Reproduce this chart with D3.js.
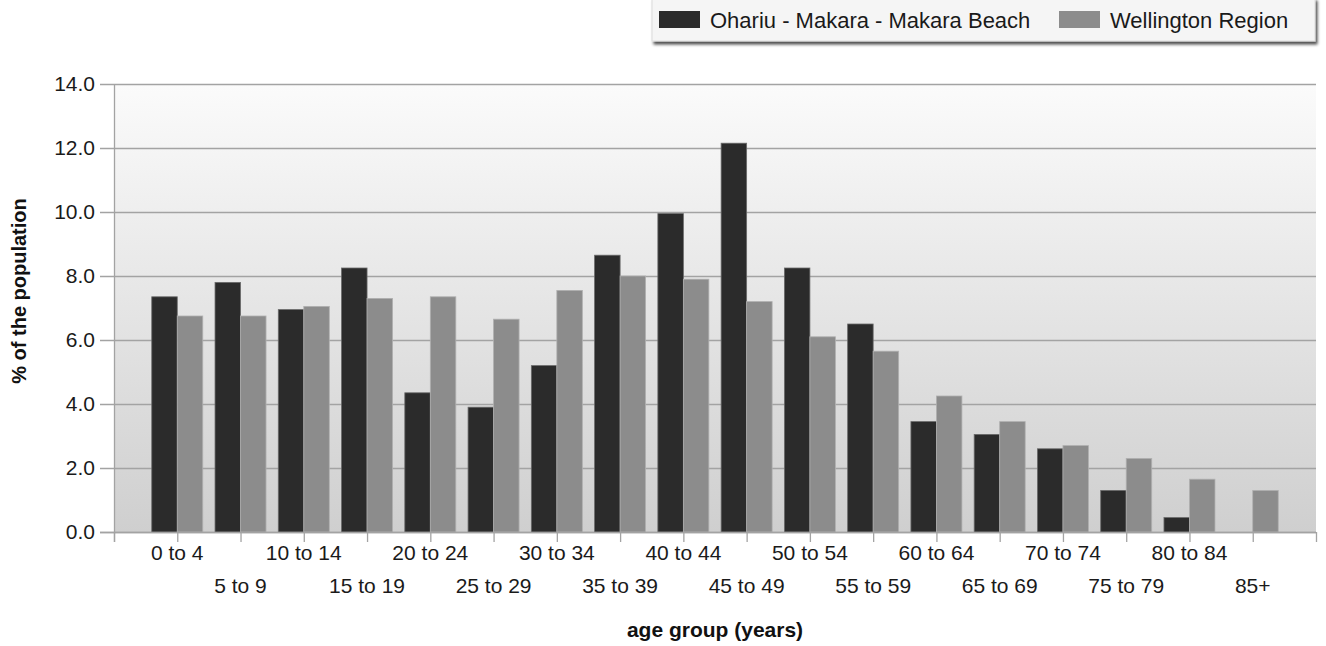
<!DOCTYPE html>
<html>
<head>
<meta charset="utf-8">
<script src="https://cdn.jsdelivr.net/npm/d3@7/dist/d3.min.js"></script>
<style>
  html, body { margin: 0; padding: 0; background: #ffffff; }
  svg { display: block; font-family: Arial, "Liberation Sans", sans-serif; }
</style>
</head>
<body>
<svg id="chart" width="1326" height="646"></svg>
<script>
const categories = ["0 to 4","5 to 9","10 to 14","15 to 19","20 to 24","25 to 29","30 to 34","35 to 39","40 to 44","45 to 49","50 to 54","55 to 59","60 to 64","65 to 69","70 to 74","75 to 79","80 to 84","85+"];
const seriesNames = ["Ohariu - Makara - Makara Beach", "Wellington Region"];
const ohariu =     [7.35, 7.8, 6.95, 8.25, 4.35, 3.9, 5.2, 8.65, 9.95, 12.15, 8.25, 6.5, 3.45, 3.05, 2.6, 1.3, 0.45, 0];
const wellington = [6.75, 6.75, 7.05, 7.3, 7.35, 6.65, 7.55, 8.0, 7.9, 7.2, 6.1, 5.65, 4.25, 3.45, 2.7, 2.3, 1.65, 1.3];
const yTicks = [0, 2, 4, 6, 8, 10, 12, 14];
const colors = ["#2b2b2b", "#8c8c8c"];

const svg = d3.select("#chart");
const plotLeft = 114, plotRight = 1316, plotTop = 84, plotBottom = 532;

const defs = svg.append("defs");
const grad = defs.append("linearGradient").attr("id", "bg").attr("x1", 0).attr("y1", 0).attr("x2", 0).attr("y2", 1);
grad.append("stop").attr("offset", "0%").attr("stop-color", "#fbfbfb");
grad.append("stop").attr("offset", "100%").attr("stop-color", "#cfcfcf");
const shadow = defs.append("filter").attr("id", "shadow").attr("x", "-5%").attr("y", "-20%").attr("width", "110%").attr("height", "160%");
shadow.append("feGaussianBlur").attr("in", "SourceAlpha").attr("stdDeviation", 1.5);
shadow.append("feOffset").attr("dx", 2).attr("dy", 3).attr("result", "ob");
shadow.append("feComponentTransfer").append("feFuncA").attr("type", "linear").attr("slope", 0.7);
const merge = shadow.append("feMerge");
merge.append("feMergeNode");
merge.append("feMergeNode").attr("in", "SourceGraphic");

const y = d3.scaleLinear().domain([0, 14]).range([plotBottom, plotTop]);
const x = d3.scalePoint().domain(categories).range([plotLeft, plotRight]).padding(1);
const barW = 25.5;

svg.append("rect").attr("x", plotLeft).attr("y", plotTop).attr("width", plotRight - plotLeft).attr("height", plotBottom - plotTop).attr("fill", "url(#bg)");

svg.append("g").selectAll("line").data(yTicks).join("line")
  .attr("x1", plotLeft - 14).attr("x2", plotRight)
  .attr("y1", d => y(d) + 0.5).attr("y2", d => y(d) + 0.5)
  .attr("stroke", "#a3a3a3").attr("stroke-width", 1.3);

svg.append("g").selectAll("text").data(yTicks).join("text")
  .attr("x", 95).attr("y", d => y(d)).attr("dy", "0.35em")
  .attr("text-anchor", "end").attr("font-size", 21).attr("fill", "#1a1a1a")
  .text(d => d.toFixed(1));

svg.append("line").attr("x1", plotLeft + 0.5).attr("x2", plotLeft + 0.5).attr("y1", plotTop).attr("y2", plotBottom + 10)
  .attr("stroke", "#a3a3a3").attr("stroke-width", 1.3);

const gBars = svg.append("g");
[ohariu, wellington].forEach((vals, s) => {
  gBars.append("g").selectAll("rect").data(categories).join("rect")
    .attr("x", c => x(c) + (s === 0 ? -barW : 0))
    .attr("y", (c, i) => y(vals[i]))
    .attr("width", barW)
    .attr("height", (c, i) => Math.max(0, y(0) - y(vals[i])))
    .attr("fill", colors[s])
    .attr("stroke", s === 0 ? "#6a6a6a" : "#b0b0b0")
    .attr("stroke-width", 0.8)
    .style("display", (c, i) => vals[i] > 0 ? null : "none");
});

svg.append("line").attr("x1", plotLeft - 14).attr("x2", plotRight).attr("y1", plotBottom + 0.5).attr("y2", plotBottom + 0.5)
  .attr("stroke", "#a3a3a3").attr("stroke-width", 1.3);
const tickPos = [plotLeft].concat(categories.map(c => x(c))).concat([plotRight]);
svg.append("g").selectAll("line").data(tickPos).join("line")
  .attr("x1", d => d + 0.5).attr("x2", d => d + 0.5)
  .attr("y1", plotBottom).attr("y2", plotBottom + 10)
  .attr("stroke", "#a3a3a3").attr("stroke-width", 1.3);

svg.append("g").selectAll("text").data(categories).join("text")
  .attr("x", c => x(c)).attr("y", (c, i) => i % 2 === 0 ? 553 : 586).attr("dy", "0.35em")
  .attr("text-anchor", "middle").attr("font-size", 21).attr("fill", "#1a1a1a")
  .text(c => c);

svg.append("text").attr("x", 715).attr("y", 630).attr("dy", "0.35em")
  .attr("text-anchor", "middle").attr("font-size", 21).attr("font-weight", "bold").attr("fill", "#111")
  .text("age group (years)");
svg.append("text").attr("transform", "translate(19,291) rotate(-90)").attr("dy", "0.35em")
  .attr("text-anchor", "middle").attr("font-size", 20).attr("font-weight", "bold").attr("fill", "#111")
  .text("% of the population");

const lg = svg.append("g");
lg.append("rect").attr("x", 652).attr("y", -2).attr("width", 663).attr("height", 43)
  .attr("fill", "#f5f5f5").attr("stroke", "#dcdcdc").attr("filter", "url(#shadow)");
const legendX = [659, 1059];
seriesNames.forEach((n, i) => {
  lg.append("rect").attr("x", legendX[i]).attr("y", 11).attr("width", 41).attr("height", 17).attr("fill", colors[i]);
  lg.append("text").attr("x", legendX[i] + 51).attr("y", 20).attr("dy", "0.35em")
    .attr("font-size", 22).attr("fill", "#1a1a1a").text(n);
});
</script>
</body>
</html>
